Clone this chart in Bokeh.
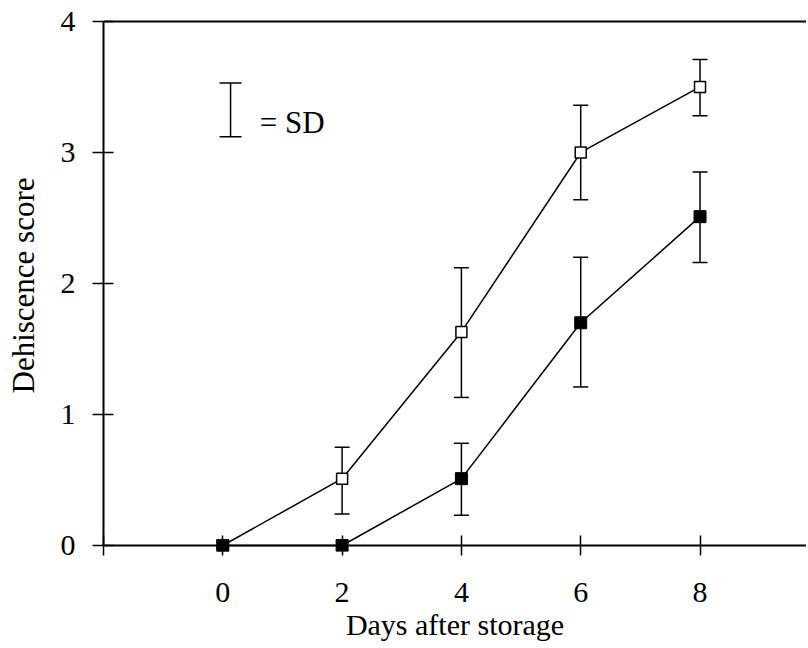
from bokeh.plotting import figure
from bokeh.models import (Range1d, FixedTicker, Span, Whisker, TeeHead,
                          ColumnDataSource)
from bokeh.core.properties import value
from bokeh.embed import file_html
from bokeh.resources import INLINE

# ---- data ----
days = [0, 2, 4, 6, 8]
open_mean = [0.0, 0.51, 1.63, 3.0, 3.5]
open_lo = [0.0, 0.24, 1.13, 2.64, 3.28]
open_hi = [0.0, 0.75, 2.12, 3.36, 3.71]
filled_mean = [0.0, 0.0, 0.51, 1.70, 2.51]
filled_lo = [0.0, 0.0, 0.23, 1.21, 2.16]
filled_hi = [0.0, 0.0, 0.78, 2.20, 2.85]
x_ticks = [-2, 0, 2, 4, 6, 8]
y_ticks = [0, 1, 2, 3, 4]
sd_key_x = [0.13]
sd_key_lo = [3.12]
sd_key_hi = [3.53]
sd_text = ["= SD"]
sd_text_x = [0.62]
sd_text_y = [3.23]

FONT = "Liberation Serif"

p = figure(width=806, height=646, output_backend="svg", toolbar_location=None,
           x_range=Range1d(-2, 9.785), y_range=Range1d(-0.046, 4.015),
           min_border_left=103, min_border_right=0, min_border_top=19,
           min_border_bottom=95)
p.grid.visible = False
p.outline_line_color = None
p.background_fill_color = "white"
p.border_fill_color = "white"

# x axis (ticks cross the zero line)
xa = p.xaxis[0]
xa.ticker = FixedTicker(ticks=x_ticks)
xa.major_label_overrides = {-2: ""}
xa.axis_line_color = None
xa.major_tick_in = 16
xa.major_tick_out = 4
xa.major_tick_line_width = 1.5
xa.minor_tick_line_color = None
xa.major_label_standoff = 27
xa.major_label_text_font = FONT
xa.major_label_text_font_size = "30px"
xa.major_label_text_color = "black"
xa.axis_label = "Days after storage"
xa.axis_label_text_font = FONT
xa.axis_label_text_font_size = "30px"
xa.axis_label_text_font_style = "normal"
xa.axis_label_text_color = "black"
xa.axis_label_standoff = 3

ya = p.yaxis[0]
ya.ticker = FixedTicker(ticks=y_ticks)
ya.bounds = (0, 4)
ya.axis_line_width = 2
ya.axis_line_color = "black"
ya.major_tick_in = 10
ya.major_tick_out = 11
ya.major_tick_line_width = 1.5
ya.minor_tick_line_color = None
ya.major_label_standoff = 17
ya.major_label_text_font = FONT
ya.major_label_text_font_size = "30px"
ya.major_label_text_color = "black"
ya.axis_label = "Dehiscence score"
ya.axis_label_text_font = FONT
ya.axis_label_text_font_size = "31px"
ya.axis_label_text_font_style = "normal"
ya.axis_label_text_color = "black"
ya.axis_label_standoff = 17

p.add_layout(Span(location=0, dimension="width", line_color="black", line_width=2))
p.add_layout(Span(location=4, dimension="width", line_color="black", line_width=2))

# error bars
src_o = ColumnDataSource(dict(x=days[1:], lo=open_lo[1:], hi=open_hi[1:]))
src_f = ColumnDataSource(dict(x=days[2:], lo=filled_lo[2:], hi=filled_hi[2:]))
for src in (src_o, src_f):
    w = Whisker(source=src, base="x", lower="lo", upper="hi",
                line_color="black", line_width=1.5, level="underlay",
                upper_head=TeeHead(size=15, line_width=1.5, line_color="black"),
                lower_head=TeeHead(size=15, line_width=1.5, line_color="black"))
    p.add_layout(w)

# SD key
src_k = ColumnDataSource(dict(x=sd_key_x, lo=sd_key_lo, hi=sd_key_hi))
p.add_layout(Whisker(source=src_k, base="x", lower="lo", upper="hi",
                     line_color="black", line_width=1.5, level="underlay",
                     upper_head=TeeHead(size=22, line_width=1.5, line_color="black"),
                     lower_head=TeeHead(size=22, line_width=1.5, line_color="black")))
p.text(x=sd_text_x, y=sd_text_y, text=sd_text, text_font=value(FONT),
       text_font_size="31px", text_color="black", text_baseline="alphabetic",
       text_align="left")

# lines and markers
p.line(days, open_mean, line_color="black", line_width=1.5)
p.line(days, filled_mean, line_color="black", line_width=1.5)
p.scatter(days, open_mean, marker="square", size=11, fill_color="white",
          line_color="black", line_width=1.5)
p.scatter(days, filled_mean, marker="square", size=12, fill_color="black",
          line_color="black", line_width=1)

open("out.html", "w").write(file_html(p, INLINE))
